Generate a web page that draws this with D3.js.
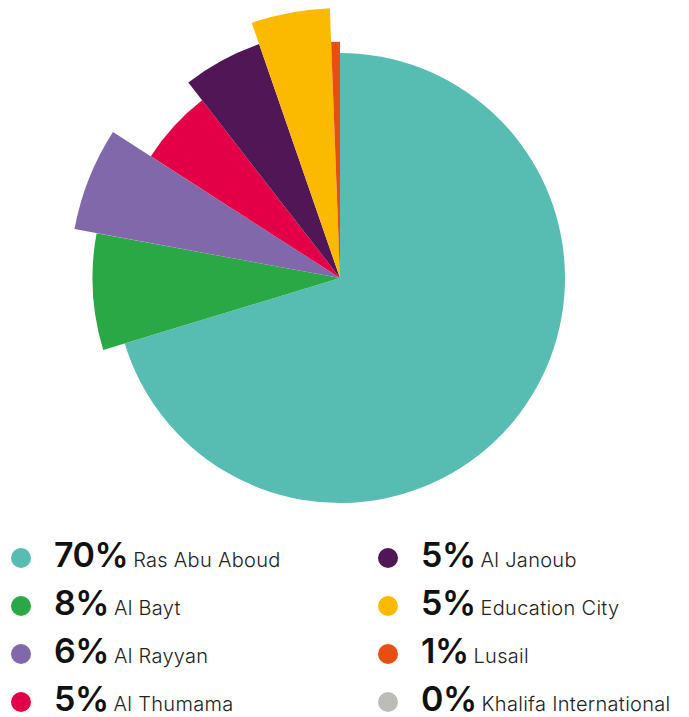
<!DOCTYPE html>
<html><head><meta charset="utf-8">
<script src="https://cdn.jsdelivr.net/npm/d3@7"></script>
<style>html,body{margin:0;padding:0;background:#fff;}</style>
</head><body>
<svg id="chart" width="689" height="717"></svg>
<script>
const categories = ["Ras Abu Aboud","Al Bayt","Al Rayyan","Al Thumama","Al Janoub","Education City","Lusail","Khalifa International"];
const values = [70.3, 7.6, 6.2, 5.4, 5.2, 4.7, 0.6, 0];
const colors = ["#57bcb2","#2ba846","#8068aa","#e40046","#501656","#fbba00","#e84e0f","#bdbdb8"];
const radiusFactor = [1, 1.1, 1.2, 1, 1.1, 1.2, 1.05, 1];

const svg = d3.select("#chart");
const cx = 340, cy = 278, baseR = 225;
const pie = d3.pie().sort(null).value(d => d.v).startAngle(0).endAngle(2*Math.PI);
const data = categories.map((c,i)=>({c, v: values[i], col: colors[i], rf: radiusFactor[i]}));
const arcs = pie(data);
const g = svg.append("g").attr("transform", `translate(${cx},${cy})`);
g.selectAll("path").data(arcs.filter(a => a.data.v > 0)).join("path")
  .attr("d", a => d3.arc().innerRadius(0).outerRadius(baseR * a.data.rf)(a))
  .attr("fill", a => a.data.col);

// Legend
const leg = svg.append("g");
const colX = [21, 388];
const rowY = [558, 606, 654, 702];
data.forEach((d,i) => {
  const col = Math.floor(i/4), row = i%4;
  const gi = leg.append("g").attr("transform", `translate(${colX[col]},${rowY[row]})`);
  gi.append("circle").attr("r",10).attr("fill", d.col);
  const t = gi.append("text").attr("x", 33).attr("y", 8.5).attr("font-family","Inter, 'Open Sans', sans-serif");
  t.append("tspan").attr("font-size",34).attr("font-weight",600).attr("fill","#111").attr("letter-spacing",-0.5).text(Math.round(d.v) + "%");
  t.append("tspan").attr("dx",5).attr("font-size",20).attr("font-weight",300).attr("fill","#222").attr("letter-spacing",0.3).text(d.c);
});
</script>
</body></html>
